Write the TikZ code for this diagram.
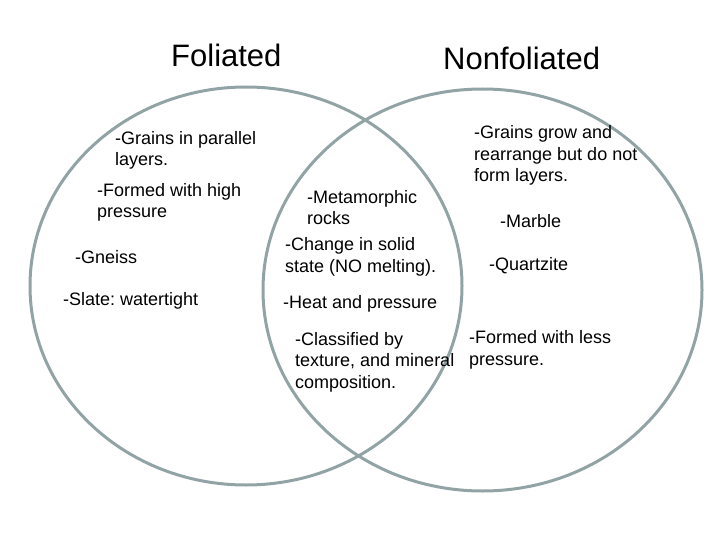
\documentclass[tikz,border=0pt]{standalone}
\usepackage{fontspec}
\setmainfont{Liberation Sans}
\frenchspacing
\definecolor{ringgray}{RGB}{146,163,165}
\begin{document}
\begin{tikzpicture}[x=1pt,y=-1pt,
  ring/.style={draw=ringgray,line width=3pt},
  body/.style={anchor=base west,inner sep=0pt,align=left,font=\fontsize{18}{21.5}\selectfont},
  title/.style={anchor=base west,inner sep=0pt,font=\fontsize{31}{36}\selectfont}]
\path[use as bounding box] (0,0) rectangle (720,540);
\draw[ring] (246,286) ellipse [x radius=216, y radius=199];
\draw[ring] (482.5,290) ellipse [x radius=219.5, y radius=201];
% multi-line nodes: base anchor is the baseline of the last line
\node[title] (fol) at (171,67) {Foliated};
\node[title] (nonfol) at (443,70) {Nonfoliated};
\node[body] (l1) at (115,166) {-Grains in parallel\\ layers.};
\node[body] (l2) at (97,218) {-Formed with high\\pressure};
\node[body] (l3) at (75,263) {-Gneiss};
\node[body] (l4) at (63,305) {-Slate: watertight};
\node[body] (m1) at (307,225) {-Metamorphic\\rocks};
\node[body] (m2) at (285,272) {-Change in solid\\state (NO melting).};
\node[body] (m3) at (283,308) {-Heat and pressure};
\node[body] (m4) at (295,388) {-Classified by\\texture, and mineral\\composition.};
\node[body] (r1) at (474,182) {-Grains grow and\\rearrange but do not\\form layers.};
\node[body] (r2) at (500,227) {-Marble};
\node[body] (r3) at (489,270) {-Quartzite};
\node[body] (r4) at (469,365) {-Formed with less\\pressure.};
\end{tikzpicture}
\end{document}
